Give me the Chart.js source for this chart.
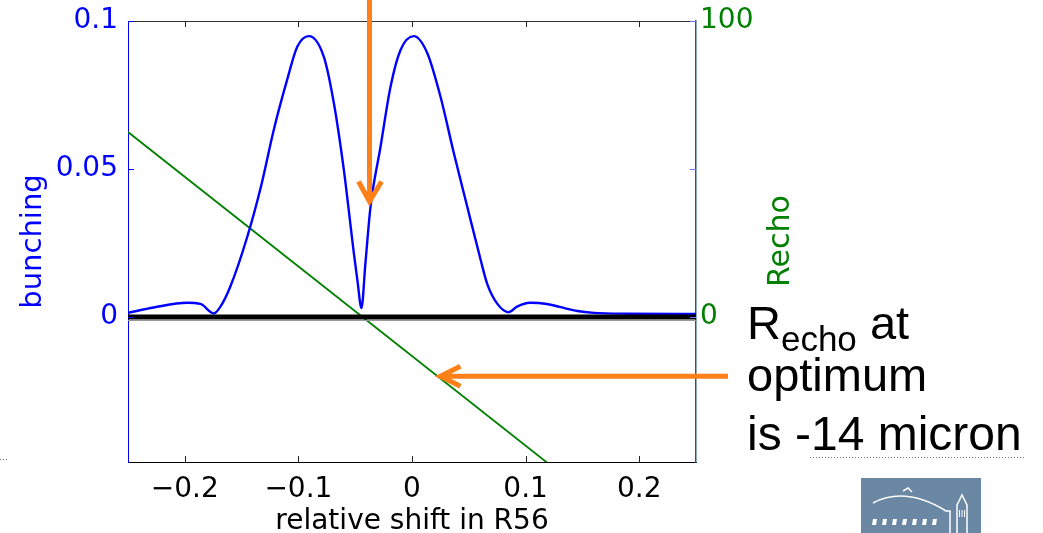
<!DOCTYPE html>
<html>
<head>
<meta charset="utf-8">
<script src="https://cdn.jsdelivr.net/npm/chart.js@4"></script>
<style>
  html, body { margin: 0; padding: 0; background: #fff; }
  #wrap { width: 1043px; height: 533px; }
</style>
</head>
<body>
<div id="wrap"><canvas id="echoChart" width="1043" height="533"></canvas></div>
<script>
// relative shift in R56 (x) and bunching factor
const shiftX = [
  -0.25, -0.2273, -0.198, -0.1862, -0.1745, -0.1686, -0.16, -0.145, -0.133,
  -0.1217, -0.11, -0.101, -0.0908, -0.0776, -0.0688, -0.06, -0.0512, -0.048, -0.0445,
  -0.041, -0.0365, -0.0277, -0.0189, -0.0101, 0.0016, 0.0134, 0.0251, 0.0368, 0.0486,
  0.0603, 0.0662, 0.075, 0.0852, 0.0925, 0.104, 0.1187, 0.131, 0.1456, 0.16,
  0.1893, 0.25
];
const bunching = [
  0.0014, 0.0032, 0.0048, 0.0044, 0.0012, 0.0035, 0.0102, 0.0271, 0.044,
  0.0632, 0.08, 0.0913, 0.0949, 0.0879, 0.0723, 0.0497, 0.0216, 0.0122, 0.003,
  0.0182, 0.0373, 0.0575, 0.0778, 0.0902, 0.0949, 0.0892, 0.0744, 0.0554, 0.0373,
  0.0195, 0.0112, 0.0045, 0.0016, 0.0035, 0.0048, 0.0044, 0.0033, 0.002, 0.0014,
  0.0011, 0.001
];

// Recho (right axis), straight line
const rechoX = [-0.25, 0.25];
const recho = [62.5, -88.9];

// zero reference line
const zeroX = [-0.25, 0.25];
const zeroY = [0, 0];

const xTicks = [-0.2, -0.1, 0, 0.1, 0.2];
const xTickLabels = ['\u22120.2', '\u22120.1', '0', '0.1', '0.2'];
const leftTicks = [0, 0.05, 0.1];
const leftTickLabels = ['0', '0.05', '0.1'];
const rightTicks = [0, 100];
const rightTickLabels = ['0', '100'];

const AXIS_FONT = '"DejaVu Sans", Verdana, sans-serif';
const NOTE_FONT = '"Liberation Sans", Arial, Helvetica, sans-serif';
const BLUE = '#0000ff';
const GREEN = '#008000';
const ORANGE = '#ff8019';

Chart.defaults.font.family = AXIS_FONT;

const toPoints = (xs, ys) => xs.map((x, i) => ({ x, y: ys[i] }));

const frameTicks = {
  id: 'frameTicks',
  afterDatasetsDraw(chart) {
    const { ctx, chartArea: a, scales } = chart;
    ctx.save();
    ctx.lineWidth = 1;
    ctx.strokeStyle = '#333';
    ctx.beginPath();
    ctx.moveTo(a.left, a.top + 0.5);
    ctx.lineTo(a.right, a.top + 0.5);
    ctx.stroke();

    // thin grey rule just under the thick zero line
    const zy = Math.round(scales.y.getPixelForValue(0)) + 3.5;
    ctx.strokeStyle = '#999';
    ctx.beginPath();
    ctx.moveTo(a.left, zy);
    ctx.lineTo(a.right, zy);
    ctx.stroke();

    xTicks.forEach((v) => {
      const px = Math.round(scales.x.getPixelForValue(v)) + 0.5;
      ctx.strokeStyle = '#222';
      ctx.beginPath();
      ctx.moveTo(px, a.bottom);
      ctx.lineTo(px, a.bottom - 6);
      ctx.moveTo(px, a.top);
      ctx.lineTo(px, a.top + 6);
      ctx.stroke();
    });

    leftTicks.forEach((v) => {
      const py = Math.round(scales.y.getPixelForValue(v)) + 0.5;
      ctx.strokeStyle = BLUE;
      ctx.beginPath();
      ctx.moveTo(a.left, py);
      ctx.lineTo(a.left + 6, py);
      ctx.stroke();
      ctx.strokeStyle = '#6f6ff5';
      ctx.beginPath();
      ctx.moveTo(a.right, py);
      ctx.lineTo(a.right - 6, py);
      ctx.stroke();
    });
    ctx.restore();
  },
};

function arrowHead(ctx, tipX, tipY, ax, ay, bx, by) {
  ctx.beginPath();
  ctx.moveTo(ax, ay);
  ctx.lineTo(tipX, tipY);
  ctx.lineTo(bx, by);
  ctx.stroke();
}

const notes = {
  id: 'notes',
  afterDraw(chart) {
    const { ctx, scales } = chart;
    ctx.save();

    // Recho axis title, reading upward
    ctx.fillStyle = GREEN;
    ctx.font = `30px ${AXIS_FONT}`;
    ctx.translate(789, 241);
    ctx.rotate(-Math.PI / 2);
    ctx.textAlign = 'center';
    ctx.textBaseline = 'alphabetic';
    ctx.fillText('Recho', 0, 0);
    ctx.setTransform(1, 0, 0, 1, 0, 0);

    // orange arrows
    ctx.strokeStyle = ORANGE;
    ctx.lineWidth = 5;
    ctx.lineCap = 'butt';
    ctx.lineJoin = 'miter';
    const vx = scales.x.getPixelForValue(-0.0374);
    const vy = scales.y.getPixelForValue(0.039);
    ctx.beginPath();
    ctx.moveTo(vx, 0);
    ctx.lineTo(vx, vy - 4);
    ctx.stroke();
    arrowHead(ctx, vx, vy, vx - 11, vy - 20, vx + 12, vy - 20);

    const hx = scales.x.getPixelForValue(0.025);
    const hy = scales.y2.getPixelForValue(-20);
    ctx.beginPath();
    ctx.moveTo(728, hy);
    ctx.lineTo(hx + 4, hy);
    ctx.stroke();
    arrowHead(ctx, hx, hy, hx + 20, hy - 10, hx + 20, hy + 10);

    // annotation text
    ctx.fillStyle = '#000';
    ctx.textAlign = 'left';
    ctx.textBaseline = 'alphabetic';
    ctx.font = `47px ${NOTE_FONT}`;
    ctx.fillText('R', 747, 339);
    const rW = ctx.measureText('R').width;
    ctx.font = `35px ${NOTE_FONT}`;
    ctx.fillText('echo', 747 + rW, 351);
    const eW = ctx.measureText('echo').width;
    ctx.font = `47px ${NOTE_FONT}`;
    ctx.fillText(' at', 747 + rW + eW, 339);
    ctx.fillText('optimum', 747, 391);
    ctx.font = `48px ${NOTE_FONT}`;
    ctx.fillText('is -14 micron', 747, 450);

    // dotted underlines
    ctx.fillStyle = '#777';
    for (let x = 810; x < 1026; x += 3) ctx.fillRect(x, 457, 1, 1);
    for (let x = 0; x < 9; x += 3) ctx.fillRect(x, 459, 1, 1);

    // lab logo
    ctx.fillStyle = '#6a87a3';
    ctx.fillRect(861, 478, 120, 55);
    ctx.strokeStyle = '#fff';
    ctx.lineWidth = 1.5;
    ctx.beginPath();
    ctx.moveTo(873, 503);
    ctx.quadraticCurveTo(905, 486, 946, 511);
    ctx.lineTo(950, 511);
    ctx.lineTo(950, 533);
    ctx.stroke();
    ctx.beginPath();
    ctx.moveTo(903, 491);
    ctx.lineTo(908, 488);
    ctx.lineTo(912, 492);
    ctx.stroke();
    ctx.fillStyle = '#fff';
    for (let i = 0; i < 7; i++) {
      const wx = 872 + i * 10;
      ctx.beginPath();
      ctx.moveTo(wx + 1, 519);
      ctx.lineTo(wx + 5, 519);
      ctx.lineTo(wx + 4, 525);
      ctx.lineTo(wx, 525);
      ctx.closePath();
      ctx.fill();
    }
    ctx.beginPath();
    ctx.moveTo(957, 533);
    ctx.lineTo(957, 505);
    ctx.lineTo(962, 495);
    ctx.lineTo(967, 505);
    ctx.lineTo(967, 533);
    ctx.stroke();
    for (let i = 0; i < 3; i++) ctx.fillRect(959 + i * 2.5, 510, 1, 7);

    ctx.restore();
  },
};

const ctx = document.getElementById('echoChart').getContext('2d');

new Chart(ctx, {
  type: 'scatter',
  data: {
    datasets: [
      {
        data: toPoints(zeroX, zeroY),
        showLine: true,
        borderColor: '#000',
        borderWidth: 5,
        pointRadius: 0,
        yAxisID: 'y',
      },
      {
        data: toPoints(shiftX, bunching),
        showLine: true,
        borderColor: BLUE,
        borderWidth: 2.4,
        pointRadius: 0,
        cubicInterpolationMode: 'monotone',
        yAxisID: 'y',
      },
      {
        data: toPoints(rechoX, recho),
        showLine: true,
        borderColor: GREEN,
        borderWidth: 1.8,
        pointRadius: 0,
        yAxisID: 'y2',
      },
    ],
  },
  options: {
    responsive: false,
    animation: false,
    layout: { padding: { top: 21, left: 0, right: 0, bottom: 0 } },
    plugins: {
      legend: { display: false },
      tooltip: { enabled: false },
    },
    scales: {
      x: {
        type: 'linear',
        min: -0.25,
        max: 0.25,
        afterFit(scale) {
          scale.height = 71;
          scale.paddingLeft = 0;
          scale.paddingRight = 0;
        },
        afterBuildTicks(scale) {
          scale.ticks = xTicks.map((value) => ({ value }));
        },
        ticks: {
          autoSkip: false,
          maxRotation: 0,
          padding: 11,
          color: '#000',
          font: { size: 28 },
          callback(value, index) {
            return xTickLabels[index];
          },
        },
        grid: { display: false, drawTicks: false },
        border: { color: '#000', width: 1 },
        title: {
          display: true,
          text: 'relative shift in R56',
          color: '#000',
          font: { size: 28, lineHeight: 0.8 },
          padding: 0,
        },
      },
      y: {
        position: 'left',
        min: -0.049,
        max: 0.1,
        afterFit(scale) {
          scale.width = 128;
          scale.paddingTop = 0;
          scale.paddingBottom = 0;
        },
        afterBuildTicks(scale) {
          scale.ticks = leftTicks.map((value) => ({ value }));
        },
        ticks: {
          padding: 10,
          color: BLUE,
          font: { size: 28 },
          callback(value, index) {
            return leftTickLabels[index];
          },
        },
        grid: { display: false, drawTicks: false },
        border: { color: BLUE, width: 1 },
        title: {
          display: true,
          text: 'bunching',
          color: BLUE,
          font: { size: 29 },
          padding: { top: 16, bottom: 0 },
        },
      },
      y2: {
        position: 'right',
        min: -49,
        max: 100,
        afterFit(scale) {
          scale.width = 347;
          scale.paddingTop = 0;
          scale.paddingBottom = 0;
        },
        afterBuildTicks(scale) {
          scale.ticks = rightTicks.map((value) => ({ value }));
        },
        ticks: {
          padding: 4,
          color: GREEN,
          font: { size: 28 },
          callback(value, index) {
            return rightTickLabels[index];
          },
        },
        grid: { display: false, drawTicks: false },
        border: { color: '#225b78', width: 1.5 },
      },
    },
  },
  plugins: [frameTicks, notes],
});
</script>
</body>
</html>
